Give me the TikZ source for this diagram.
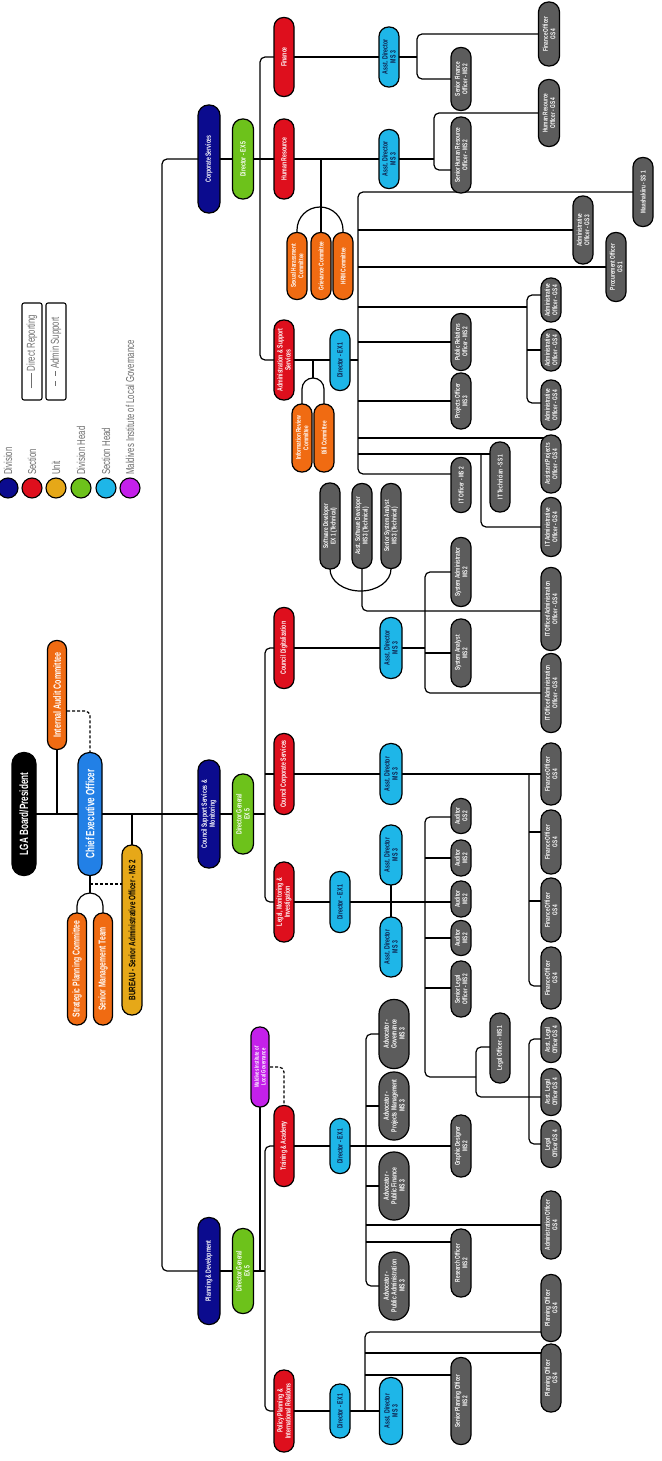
\documentclass[tikz,border=0pt]{standalone}
\usepackage{fontspec}
\newfontfamily\cf[FakeStretch=0.68]{Liberation Sans}
\usetikzlibrary{backgrounds}
\definecolor{divblue}{HTML}{0B0B8E}
\definecolor{secred}{HTML}{DE0F1D}
\definecolor{unitgold}{HTML}{E6A818}
\definecolor{commorange}{HTML}{F06B12}
\definecolor{dgreen}{HTML}{6DC21B}
\definecolor{shcyan}{HTML}{1EB6E8}
\definecolor{ceoblue}{HTML}{2280E6}
\definecolor{milgpurple}{HTML}{C420EA}
\definecolor{staffgray}{HTML}{5C5C5C}
\definecolor{legendgray}{HTML}{6E6E6E}
\definecolor{headnavy}{HTML}{0E1C48}
\newcommand\fntS{\cf\bfseries\fontsize{7}{7.5}\selectfont}
\newcommand\fntM{\cf\bfseries\fontsize{7.6}{8}\selectfont}
\newcommand\fntL{\cf\bfseries\fontsize{10}{11}\selectfont}
\newcommand\fntX{\cf\bfseries\fontsize{12}{13}\selectfont}
\newcommand\fntLeg{\cf\fontsize{11.5}{13}\selectfont}
\begin{document}
\begin{tikzpicture}[x=1pt,y=-1pt,
 pill/.style={rectangle,rounded corners=9.5pt,draw=black,line width=1.2pt,rotate=90,inner sep=0.5pt,align=center,text=white,minimum height=20pt,font=\fntS},
 mw/.style={minimum width=#1},
 staff/.style={pill,fill=staffgray},
 adv/.style={pill,fill=staffgray,minimum height=30pt,rounded corners=14.5pt,font=\cf\bfseries\fontsize{7.5}{7.9}\selectfont},
 sect/.style={pill,fill=secred,font=\fntM},
 divn/.style={pill,fill=divblue,minimum height=22pt,rounded corners=10.5pt,font=\fntM},
 dhead/.style={pill,fill=dgreen,minimum height=21pt,rounded corners=10pt,font=\fntM},
 shead/.style={pill,fill=shcyan,text=headnavy,font=\fntM},
 sheadw/.style={shead,minimum height=22pt,rounded corners=10.5pt},
 comm/.style={pill,fill=commorange},
 conn/.style={line width=1.2pt,rounded corners=5pt},
 arcconn/.style={line width=1.2pt},
 dconn/.style={line width=1.2pt,dash pattern=on 3pt off 2pt,rounded corners=5pt},
 legc/.style={circle,draw=black,line width=1.1pt,minimum size=20pt,inner sep=0pt},
 legt/.style={rotate=90,anchor=west,inner sep=0pt,text=legendgray,font=\fntLeg},
 legbox/.style={rectangle,rounded corners=2pt,draw=black,line width=1.1pt,rotate=90,minimum width=97pt,minimum height=20pt,inner sep=0pt,text=legendgray,font=\fntLeg},
]
\useasboundingbox (0,0) rectangle (661,1461);
% ---------- legend ----------
\node[legc,fill=divblue] (lc1) at (8,488) {};
\node[legc,fill=secred] (lc2) at (32,488) {};
\node[legc,fill=unitgold] (lc3) at (56,488) {};
\node[legc,fill=dgreen] (lc4) at (81,488) {};
\node[legc,fill=shcyan] (lc5) at (106,488) {};
\node[legc,fill=milgpurple] (lc6) at (130,488) {};
\node[legt] (lt1) at (8,475) {Division};
\node[legt] (lt2) at (32,475) {Section};
\node[legt] (lt3) at (56,475) {Unit};
\node[legt] (lt4) at (81,475) {Division Head};
\node[legt] (lt5) at (106,475) {Section Head};
\node[legt] (lt6) at (130,475) {Maldives Institute of Local Governance};
\node[legbox] (lb1) at (32,351.5) {\rule[0.6ex]{15pt}{0.7pt}\ Direct Reporting};
\node[legbox] (lb2) at (56,351.5) {\rule[0.6ex]{5pt}{0.7pt}\hspace{5pt}\rule[0.6ex]{5pt}{0.7pt}\ Admin Support};
% ---------- top ----------
\node[pill,fill=black,minimum height=24pt,rounded corners=11.5pt,mw=123,font=\fntX] (lga) at (24,814) {LGA Board/President};
\node[pill,fill=commorange,minimum height=19pt,rounded corners=9pt,mw=109,font=\cf\bfseries\fontsize{10.5}{11}\selectfont] (iac) at (57,695) {Internal Audit Committee};
\node[pill,fill=ceoblue,minimum height=24pt,rounded corners=11.5pt,mw=123,font=\fntX] (ceo) at (90,814) {Chief Executive Officer};
\node[pill,fill=commorange,minimum height=19pt,rounded corners=9pt,mw=112,font=\fntL] (spc) at (77,969) {Strategic Planning Committee};
\node[pill,fill=commorange,minimum height=19pt,rounded corners=9pt,mw=112,font=\fntL] (smt) at (103,969) {Senior Management Team};
\node[pill,fill=unitgold,text=black,mw=170,font=\cf\bfseries\fontsize{9.3}{10}\selectfont] (bur) at (132,930) {BUREAU - Senior Administrative Officer - MS 2};
% ---------- divisions ----------
\node[divn,mw=108] (cs) at (209,159) {Corporate Services};
\node[divn,mw=108] (cssm) at (209,814) {Council Support Services \&\\Monitoring};
\node[divn,mw=107] (pd) at (209,1271) {Planning \& Development};
\node[dhead,mw=80] (dcs) at (243,159) {Director - EX 5};
\node[dhead,mw=80] (dgc) at (243,814) {Director General\\EX 5};
\node[dhead,mw=85] (dgp) at (243,1271) {Director General\\EX 5};
\node[pill,fill=milgpurple,minimum height=18pt,rounded corners=8.5pt,mw=80,font=\cf\bfseries\fontsize{6.3}{6.7}\selectfont] (milg) at (260,1067) {Maldives Institute of\\Local Governance};
% ---------- sections ----------
\node[sect,mw=79] (fin) at (284,57) {Finance};
\node[sect,mw=80] (hr) at (284,159) {Human Resource};
\node[sect,mw=80] (ass) at (284,360) {Administration \& Support\\Services};
\node[sect,mw=81] (cd) at (284,648) {Council Digitalization};
\node[sect,mw=81] (ccs) at (284,774) {Council Corporate Services};
\node[sect,mw=80] (lmi) at (284,902) {Legal, Monitoring \&\\Investigation};
\node[sect,mw=81] (ta) at (284,1146) {Training \& Academy};
\node[sect,mw=82] (ppir) at (284,1411) {Policy Planning \&\\International Relations};
% ---------- committees ----------
\node[comm,mw=67] (shc) at (297,266) {Sexual Harassment\\Committee};
\node[comm,mw=67] (gc) at (321,266) {Grievance Committee};
\node[comm,mw=67] (hrmc) at (343,266) {HRM Committee};
\node[comm,mw=68] (irc) at (302,438) {Information Review\\Committee};
\node[comm,mw=68] (bc) at (324,438) {Bill Committee};
% ---------- section heads ----------
\node[shead,mw=60] (fad) at (389,57) {Asst. Director\\MS 3};
\node[shead,mw=59] (had) at (389,159) {Asst. Director\\MS 3};
\node[shead,mw=61] (dase) at (340,360) {Director - EX 1};
\node[sheadw,mw=61] (cdad) at (391,648) {Asst. Director\\MS 3};
\node[sheadw,mw=61] (ccad) at (391,774) {Asst. Director\\MS 3};
\node[shead,mw=61] (lmid) at (340,902) {Director - EX 1};
\node[sheadw,mw=60] (lad1) at (391,855) {Asst. Director\\MS 3};
\node[sheadw,mw=60] (lad2) at (391,947) {Asst. Director\\MS 3};
\node[shead,mw=55] (tad) at (340,1146) {Director - EX 1};
\node[shead,mw=54] (pdir) at (340,1411) {Director - EX 1};
\node[shead,mw=67,minimum height=23pt,rounded corners=11pt] (pad) at (391,1411) {Asst. Director\\MS 3};
% ---------- staff: corporate ----------
\node[staff,mw=64,minimum height=21pt,rounded corners=10pt] (fo1) at (549,34) {Finance Officer\\GS 4};
\node[staff,mw=63] (sfo) at (461,79) {Senior Finance\\Officer - MS 2};
\node[staff,mw=67,minimum height=21pt,rounded corners=10pt] (hro) at (549,113) {Human Resource\\Officer - GS 4};
\node[staff,mw=76] (shro) at (461,155) {Senior Human Resource\\Officer - MS 2};
\node[staff,mw=69] (mas) at (643,192) {Maashakiiru - SS 1};
\node[staff,mw=68] (ao3) at (583,230) {Administrative\\Officer - GS 3};
\node[staff,mw=69] (proc) at (616,267) {Procurement Officer\\GS 1};
\node[staff,mw=44] (ao4a) at (551,300) {Administrative\\Officer - GS 4};
\node[staff,mw=42] (ao4b) at (551,350) {Administrative\\Officer - GS 4};
\node[staff,mw=50] (ao4c) at (551,405) {Administrative\\Officer - GS 4};
\node[staff,mw=57] (pro) at (461,342) {Public Relations\\Officer - MS2};
\node[staff,mw=56] (pjo) at (461,401) {Projects Officer\\MS 3};
\node[staff,mw=58] (apo) at (551,464) {Assistant Projects\\Officer - GS 4};
\node[staff,mw=55] (ito) at (461,485) {IT Officer - MS 2};
\node[staff,mw=70] (itt) at (500,477) {IT Technician - SS 1};
\node[staff,mw=59] (itao) at (551,527) {IT Administrative\\Officer - GS 4};
% ---------- staff: council ----------
\node[staff,mw=86] (swd) at (330,526) {Software Developer\\EX 1 (Technical)};
\node[staff,mw=85] (aswd) at (362,526) {Asst. Software Developer\\MS 3 (Technical)};
\node[staff,mw=85] (ssa) at (391,526) {Senior System Analyst\\MS 3 (Technical)};
\node[staff,mw=69] (sysad) at (461,572) {System Administrator\\MS 2};
\node[staff,mw=83] (itoa1) at (551,609) {IT Officer/Administration\\Officer - GS 4};
\node[staff,mw=68] (sysan) at (461,653) {System Analyst\\MS 2};
\node[staff,mw=79] (itoa2) at (551,693) {IT Officer/Administration\\Officer - GS 4};
\node[staff,mw=62] (cfo1) at (551,774) {Finance Officer\\GS 4};
\node[staff,mw=64] (cfo2) at (551,842) {Finance Officer\\GS 4};
\node[staff,mw=64] (cfo3) at (551,910) {Finance Officer\\GS 4};
\node[staff,mw=62] (cfo4) at (551,978) {Finance Officer\\GS 4};
\node[staff,mw=35] (aud1) at (461,816) {Auditor\\GS 2};
\node[staff,mw=36] (aud2) at (461,858) {Auditor\\MS 2};
\node[staff,mw=36] (aud3) at (461,899) {Auditor\\MS 2};
\node[staff,mw=35] (aud4) at (461,938) {Auditor\\MS 2};
\node[staff,mw=56] (slo) at (461,989) {Senior Legal\\Officer - MS 2};
\node[staff,mw=70] (lo1) at (500,1048) {Legal Officer - MS 1};
\node[staff,mw=45] (alo1) at (551,1040) {Asst. Legal\\Officer GS 4};
\node[staff,mw=47] (alo2) at (551,1092) {Asst. Legal\\Officer GS 4};
\node[staff,mw=47] (lo4) at (551,1144) {Legal\\Officer GS 4};
% ---------- staff: planning ----------
\node[adv,mw=69] (adv1) at (394,1034) {Advocator -\\Governance\\MS 3};
\node[adv,mw=68] (adv2) at (394,1106) {Advocator -\\Projects Management\\MS 3};
\node[staff,mw=62] (gd) at (461,1146) {Graphic Designer\\MS 2};
\node[adv,mw=68] (adv3) at (394,1186) {Advocator -\\Public Finance\\MS 3};
\node[staff,mw=68] (admo) at (551,1225) {Administration Officer\\GS 4};
\node[staff,mw=68] (ro) at (461,1263) {Research Officer\\MS 2};
\node[adv,mw=68] (adv4) at (394,1286) {Advocator -\\Public Administration\\MS 3};
\node[staff,mw=67] (plo1) at (551,1308) {Planning Officer\\GS 4};
\node[staff,mw=68] (plo2) at (551,1378) {Planning Officer\\GS 4};
\node[staff,mw=87] (spo) at (461,1401) {Senior Planning Officer\\MS 2};
% ---------- connectors ----------
\begin{scope}[on background layer]
\fill[white] (0,0) rectangle (661,1461);
% top level
\draw[conn] (lga.center) -- (dgc.center) -- (265,814);
\draw[conn] (iac.center) -- (iac.center |- lga.center);
\draw[dconn] (iac.center |- 0,711) -- (90,711) -- (ceo.center);
\draw[conn] (bur.center |- lga.center) -- (bur.center);
\draw[dconn] (ceo.center |- 0,884) -- (bur.center |- 0,884);
\draw[conn] (ceo.center) -- (90,893);
\draw[arcconn] (spc.center) -- (77,906) .. controls (77,898.8) and (82.8,893) .. (90,893) .. controls (97.2,893) and (103,898.8) .. (103,906) -- (smt.center);
% trunk
\draw[conn] (cs.center) -- (162,159) -- (162,1271) -- (pd.center);
\draw[conn] (cs.center) -- (had.center);
\draw[conn] (pd.center) -- (dgp.center) -- (265,1271);
% corporate
\draw[conn] (fin.center) -- (260,57) -- (260,360) -- (ass.center);
\draw[conn] (fin.center) -- (fad.center) -- (417,57);
\draw[conn] (fo1.center) -- (417,34) -- (417,79) -- (sfo.center);
\draw[conn] (had.center) -- (434,159);
\draw[conn] (hro.center) -- (434,113) -- (434,170) -- (shro.center |- 0,170);
\draw[conn] (gc.center |- hr.center) -- (gc.center);
\draw[arcconn] (shc.center) -- (297,230) .. controls (297,217.3) and (307.3,207) .. (320,207) .. controls (332.7,207) and (343,217.3) .. (343,230) -- (hrmc.center);
% admin & support
\draw[conn] (ass.center) -- (358,360);
\draw[conn] (mas.center) -- (358,192) -- (358,474) -- (ito.center |- 0,474);
\draw[conn] (358,230) -- (ao3.center);
\draw[conn] (358,267) -- (proc.center);
\draw[conn] (358,307) -- (527,307);
\draw[conn] (ao4a.center |- 0,295) -- (527,295) -- (527,403) -- (ao4c.center |- 0,403);
\draw[conn] (527,350) -- (ao4b.center);
\draw[conn] (358,342) -- (pro.center);
\draw[conn] (358,401) -- (pjo.center);
\draw[conn] (358,438) -- (apo.center |- 0,438);
\draw[conn] (358,454) -- (itt.center |- 0,454);
\draw[conn] (481,454) -- (481,527) -- (itao.center);
\draw[conn] (313,360) -- (313,378);
\draw[arcconn] (irc.center) -- (302,389) .. controls (302,382.9) and (306.9,378) .. (313,378) .. controls (319.1,378) and (324,382.9) .. (324,389) -- (bc.center);
% council trunk
\draw[conn] (cd.center) -- (265,648) -- (265,902) -- (lmi.center);
\draw[conn] (ccs.center) -- (265,774);
% council digitalization
\draw[conn] (cd.center) -- (cdad.center) -- (425,648);
\draw[conn] (sysad.center) -- (425,572) -- (425,693) -- (itoa2.center);
\draw[conn] (425,653) -- (sysan.center);
\draw[conn] (aswd.center) -- (362,611) -- (itoa1.center |- 0,611);
\draw[arcconn] (swd.center) -- (330,569) .. controls (330,581.2) and (343.7,591) .. (360.5,591) .. controls (377.3,591) and (391,581.2) .. (391,569) -- (ssa.center);
% council corporate
\draw[conn] (ccs.center) -- (cfo1.center);
\draw[conn] (529,774) -- (529,986) -- (cfo4.center |- 0,986);
\draw[conn] (529,832) -- (cfo2.center |- 0,832);
\draw[conn] (529,901) -- (cfo3.center |- 0,901);
% legal
\draw[conn] (lmi.center) -- (aud3.center |- 0,902);
\draw[conn] (lad1.center) -- (lad2.center);
\draw[conn] (aud1.center |- 0,817) -- (425,817) -- (425,1077) -- (476,1077);
\draw[conn] (425,858) -- (aud2.center);
\draw[conn] (425,938) -- (aud4.center);
\draw[conn] (425,988) -- (slo.center |- 0,988);
\draw[conn] (lo1.center |- 0,1047) -- (476,1047) -- (476,1097) -- (alo2.center |- 0,1097);
\draw[conn] (alo1.center |- 0,1039) -- (529,1039) -- (529,1144) -- (lo4.center);
% planning
\draw[conn] (ta.center) -- (265,1146) -- (265,1411) -- (ppir.center);
\draw[conn] (milg.center) -- (milg.center |- dgp.center);
\draw[dconn] (milg.center) -- (ta.center |- milg.center) -- (ta.center);
\draw[conn] (ta.center) -- (gd.center);
\draw[conn] (adv1.center) -- (366,1034) -- (366,1286) -- (adv4.center);
\draw[conn] (366,1106) -- (adv2.center);
\draw[conn] (366,1186) -- (adv3.center);
\draw[conn] (366,1225) -- (admo.center);
\draw[conn] (366,1242) -- (ro.center |- 0,1242);
\draw[conn] (ppir.center) -- (pad.center);
\draw[conn] (plo1.center |- 0,1332) -- (365,1332) -- (365,1411);
\draw[conn] (365,1353) -- (plo2.center |- 0,1353);
\draw[conn] (365,1375) -- (spo.center |- 0,1375);
\end{scope}
\end{tikzpicture}
\end{document}
